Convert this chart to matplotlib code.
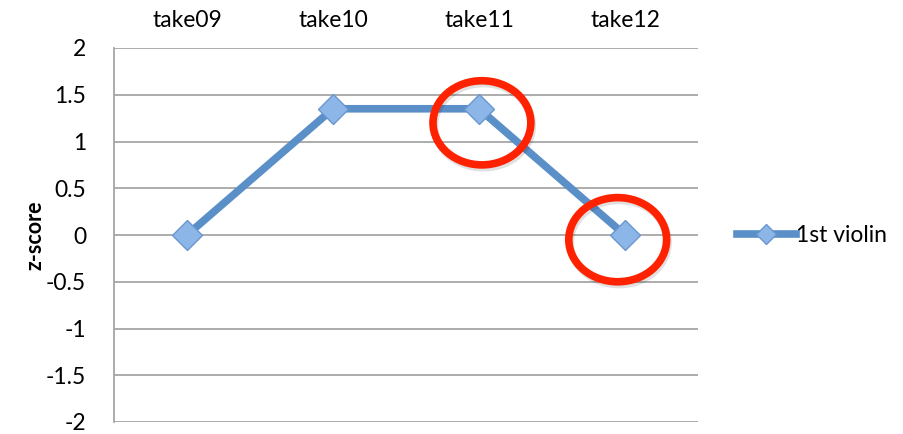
import matplotlib
matplotlib.use("Agg")
import matplotlib.pyplot as plt
from matplotlib.patches import Ellipse
from matplotlib.lines import Line2D

categories = ["take09", "take10", "take11", "take12"]
violin1 = [0.0, 1.35, 1.35, 0.0]
series_name = "1st violin"
yticks = [2, 1.5, 1, 0.5, 0, -0.5, -1, -1.5, -2]

plt.rcParams['font.family'] = ['Lato', 'DejaVu Sans']
plt.rcParams['axes.unicode_minus'] = False

fig = plt.figure(figsize=(9.04, 4.34), dpi=100)
ax = fig.add_axes([114 / 904, 12 / 434, 584 / 904, 374 / 434])

x = list(range(len(categories)))
line_color = "#5B8FC8"
ax.plot(x, violin1, color=line_color, lw=5.5, solid_capstyle="butt", zorder=3)
ax.plot(x, violin1, ls="none", marker="D", ms=15, mfc="#8DB6E8",
        mec="#6A97CF", mew=1.0, zorder=4)

ax.set_xlim(-0.5, len(categories) - 0.5)
ax.set_ylim(-2, 2)
ax.set_yticks(yticks)
ax.set_yticklabels([f"{v:g}" for v in yticks], fontsize=16.5)
ax.set_xticks(x)
ax.set_xticklabels(categories, fontsize=16.5)
ax.xaxis.tick_top()
ax.tick_params(axis="y", length=0, pad=20)
ax.tick_params(axis="x", length=0, pad=12)
ax.grid(axis="y", color="#A6A6A6", lw=1.3)
ax.set_axisbelow(True)
for side in ["top", "right", "bottom"]:
    ax.spines[side].set_visible(False)
ax.spines["left"].set_color("#A6A6A6")
ax.spines["left"].set_linewidth(1.3)
ax.set_ylabel("z-score", fontsize=15.5, fontweight="bold", labelpad=0)

# highlight circles around the last two takes
for (cx, cy), (dx, dy) in [((2, violin1[2]), (0.02, -0.15)),
                           ((3, violin1[3]), (-0.05, -0.05))]:
    shadow = Ellipse((cx + dx + 0.01, cy + dy - 0.03), 0.67, 0.9, fill=False,
                     ec="#000000", lw=5.5, alpha=0.12, zorder=5)
    ax.add_patch(shadow)
    ring = Ellipse((cx + dx, cy + dy), 0.67, 0.9, fill=False,
                   ec="#FF2200", lw=5.5, zorder=6)
    ax.add_patch(ring)

handle = Line2D([], [], color=line_color, lw=5.5, marker="D", ms=10,
                mfc="#8DB6E8", mec="#6A97CF")
leg = fig.legend([handle], [series_name], loc="center left",
                 bbox_to_anchor=(716 / 904, 1 - 236 / 434), frameon=False,
                 fontsize=16.5, handlelength=2.6, handletextpad=0.0)

fig.savefig("out.png", dpi=100)
